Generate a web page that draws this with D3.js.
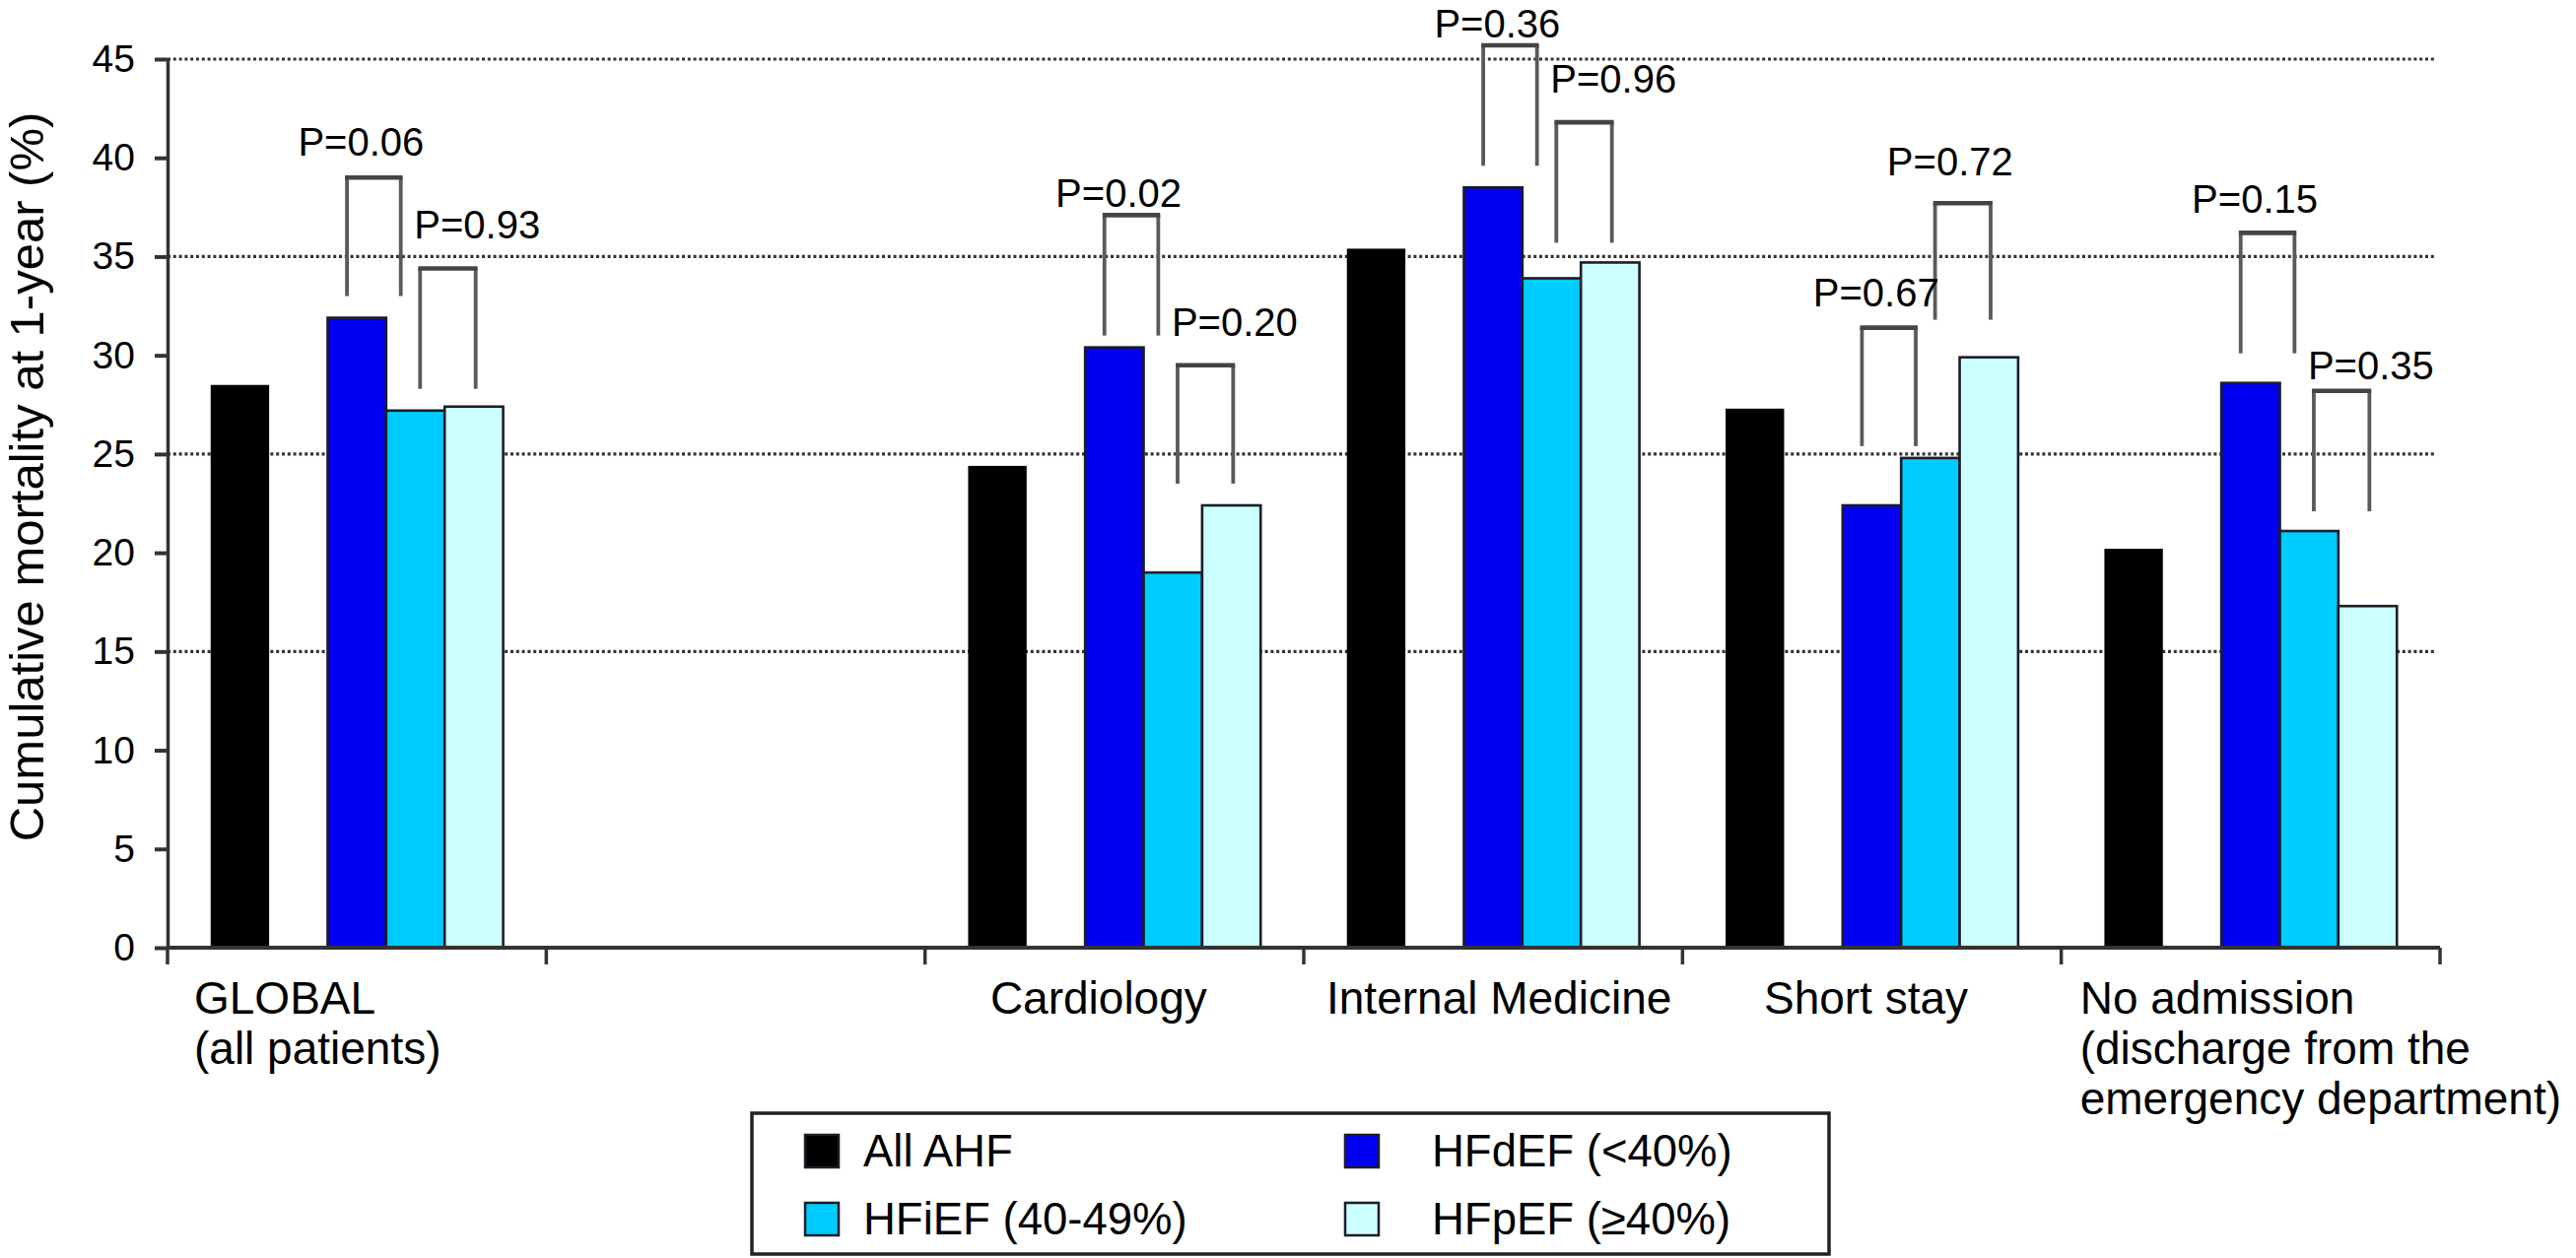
<!DOCTYPE html>
<html>
<head>
<meta charset="utf-8">
<script src="https://cdn.jsdelivr.net/npm/d3@7/dist/d3.min.js"></script>
<style>
  html, body { margin: 0; padding: 0; background: #ffffff; }
  svg { display: block; }
  text { font-family: "Liberation Sans", Arial, Helvetica, sans-serif; fill: #000; }
</style>
</head>
<body>
<svg id="chart" width="2614" height="1277"></svg>
<script>
// ---------------- DATA ----------------
const categories = ["GLOBAL\n(all patients)", "", "Cardiology", "Internal Medicine", "Short stay",
                    "No admission\n(discharge from the\nemergency department)"];
const seriesNames = ["All AHF", "HFdEF (<40%)", "HFiEF (40-49%)", "HFpEF (\u226540%)"];
const allAHF = [28.5, null, 24.4, 35.4, 27.3, 20.2];
const hfdEF  = [31.9, null, 30.4, 38.5, 22.4, 28.6];
const hfiEF  = [27.2, null, 19.0, 33.9, 24.8, 21.1];
const hfpEF  = [27.4, null, 22.4, 34.7, 29.9, 17.3];
const yTicks = [0, 5, 10, 15, 20, 25, 30, 35, 40, 45];
const gridValues = [15, 25, 35, 45];
// P-value comparisons: 1 = HFdEF vs HFiEF, 2 = HFiEF vs HFpEF
const pLabel1 = ["P=0.06", null, "P=0.02", "P=0.36", "P=0.67", "P=0.15"];
const pLabel2 = ["P=0.93", null, "P=0.20", "P=0.96", "P=0.72", "P=0.35"];
const bracketTop1 = [39.0, null, 37.1, 45.7, 31.4, 36.2];
const bracketBottom1 = [33.0, null, 31.0, 39.6, 25.4, 30.1];
const bracketTop2 = [34.4, null, 29.5, 41.8, 37.7, 28.2];
const bracketBottom2 = [28.3, null, 23.5, 35.7, 31.8, 22.1];
const pLabelY1 = [40.1, null, 37.5, 46.1, 32.5, 37.2];
const pLabelY2 = [35.9, null, 31.0, 43.3, 39.1, 28.8];

// ---------------- LAYOUT / STYLE ----------------
const svg = d3.select("#chart");
const colors = { all: "#000000", d: "#0000f2", i: "#00ccff", p: "#ccffff" };
const seriesKeys = ["all", "d", "i", "p"];
const seriesValues = { all: allAHF, d: hfdEF, i: hfiEF, p: hfpEF };
const layout = {
  catLabelDx: [27, 0, -16, 6, -6, 19],   // px nudges of category labels
  labelAlign2: ["start", null, "start", "start", "middle", "start"]
};

const x = d3.scaleBand().domain(d3.range(categories.length)).range([170, 2476]).padding(0);
const x1 = d3.scaleBand().domain(["all", "gap", "d", "i", "p"]).range([0, x.bandwidth()])
  .paddingInner(0).paddingOuter(0.737);
const y = d3.scaleLinear().domain([0, 45]).range([962, 60]);
const bw = x1.bandwidth();
const cx = (i, k) => x(i) + x1(k) + bw / 2;

// gridlines
svg.append("g").selectAll("line").data(gridValues).join("line")
  .attr("x1", x.range()[0]).attr("x2", 2470)
  .attr("y1", d => y(d)).attr("y2", d => y(d))
  .attr("stroke", "#333").attr("stroke-width", 3.2)
  .attr("stroke-dasharray", "3 2.8");

// bars
const barG = svg.append("g");
seriesKeys.forEach(k => {
  const vals = seriesValues[k];
  barG.append("g").selectAll("rect")
    .data(vals.map((v, i) => ({ v, i })).filter(d => d.v != null))
    .join("rect")
    .attr("x", d => x(d.i) + x1(k))
    .attr("width", bw)
    .attr("y", d => y(d.v))
    .attr("height", d => y(0) - y(d.v))
    .attr("fill", colors[k])
    .attr("stroke", k === "all" ? "#000" : "#1c1c2a")
    .attr("stroke-width", k === "all" ? 0 : 2.6);
});

// y axis
const yAxis = d3.axisLeft(y).tickValues(yTicks).tickSize(13).tickSizeOuter(0).tickPadding(20);
const yg = svg.append("g").attr("transform", `translate(${x.range()[0]},0)`).call(yAxis);
yg.select(".domain").attr("stroke", "#333").attr("stroke-width", 3.5);
yg.selectAll(".tick line").attr("stroke", "#333").attr("stroke-width", 4);
yg.selectAll(".tick text").style("font-size", "39px")
  .style("font-family", "'Liberation Sans', Arial, sans-serif").attr("fill", "#000");

// x axis (category boundaries)
const bounds = d3.range(categories.length).map(i => x(i)).concat([x.range()[1]]);
const xg = svg.append("g");
xg.append("line").attr("x1", x.range()[0]).attr("x2", x.range()[1])
  .attr("y1", y(0)).attr("y2", y(0)).attr("stroke", "#333").attr("stroke-width", 4);
xg.selectAll("line.tk").data(bounds).join("line").attr("class", "tk")
  .attr("x1", d => d).attr("x2", d => d)
  .attr("y1", y(0)).attr("y2", y(0) + 17)
  .attr("stroke", "#333").attr("stroke-width", 3.5);

// category labels
categories.forEach((c, i) => {
  if (!c) return;
  const lines = c.split("\n");
  const multi = lines.length > 1;
  const lx = multi ? x(i) + layout.catLabelDx[i] : x(i) + x.bandwidth() / 2 + layout.catLabelDx[i];
  const t = svg.append("text")
    .attr("x", lx).attr("y", 1029)
    .attr("text-anchor", multi ? "start" : "middle")
    .style("font-size", "46px");
  lines.forEach((ln, j) => {
    t.append("tspan").attr("x", lx).attr("dy", j === 0 ? 0 : 51).text(ln);
  });
});

// y axis title
svg.append("text")
  .attr("transform", `translate(44,484) rotate(-90)`)
  .attr("text-anchor", "middle")
  .style("font-size", "49px")
  .text("Cumulative mortality at 1-year (%)");

// brackets and P labels
const brG = svg.append("g").attr("fill", "none");
categories.forEach((c, i) => {
  if (pLabel1[i] == null) return;
  const l1 = cx(i, "d") - 0.17 * bw, r1 = cx(i, "i") - 0.25 * bw;
  const l2 = cx(i, "i") + 0.08 * bw, r2 = cx(i, "p") + 0.03 * bw;
  [[l1, r1, bracketTop1[i], bracketBottom1[i]], [l2, r2, bracketTop2[i], bracketBottom2[i]]]
    .forEach(([l, r, t, b]) => {
      brG.append("path")
        .attr("d", `M${l},${y(b)}V${y(t)}`)
        .attr("stroke", "#5a5a5a").attr("stroke-width", 3.8);
      brG.append("path")
        .attr("d", `M${r},${y(t)}V${y(b)}`)
        .attr("stroke", "#5a5a5a").attr("stroke-width", 3.8);
      brG.append("path")
        .attr("d", `M${l - 1.9},${y(t)}H${r + 1.9}`)
        .attr("stroke", "#444").attr("stroke-width", 4.6);
    });
  svg.append("text").attr("x", (l1 + r1) / 2 - 13).attr("y", y(pLabelY1[i]))
    .attr("text-anchor", "middle").style("font-size", "40px").text(pLabel1[i]);
  const a2 = layout.labelAlign2[i];
  svg.append("text").attr("x", a2 === "start" ? l2 - 6 : (l2 + r2) / 2 - 13).attr("y", y(pLabelY2[i]))
    .attr("text-anchor", a2).style("font-size", "40px").text(pLabel2[i]);
});

// legend
const lg = svg.append("g");
lg.append("rect").attr("x", 763).attr("y", 1130).attr("width", 1093).attr("height", 143)
  .attr("fill", "#fff").attr("stroke", "#222").attr("stroke-width", 3.5);
const legendItems = [
  { k: "all", name: seriesNames[0], col: 0, row: 0 },
  { k: "d", name: seriesNames[1], col: 1, row: 0 },
  { k: "i", name: seriesNames[2], col: 0, row: 1 },
  { k: "p", name: seriesNames[3], col: 1, row: 1 }
];
const colX = [817, 1365], textX = [876, 1453], rowY = [1152, 1221];
legendItems.forEach(it => {
  lg.append("rect").attr("x", colX[it.col]).attr("y", rowY[it.row])
    .attr("width", 34).attr("height", 33)
    .attr("fill", colors[it.k]).attr("stroke", "#1c1c2a").attr("stroke-width", 2.5);
  lg.append("text").attr("x", textX[it.col]).attr("y", rowY[it.row] + 32)
    .style("font-size", "45.5px").text(it.name);
});
</script>
</body>
</html>
